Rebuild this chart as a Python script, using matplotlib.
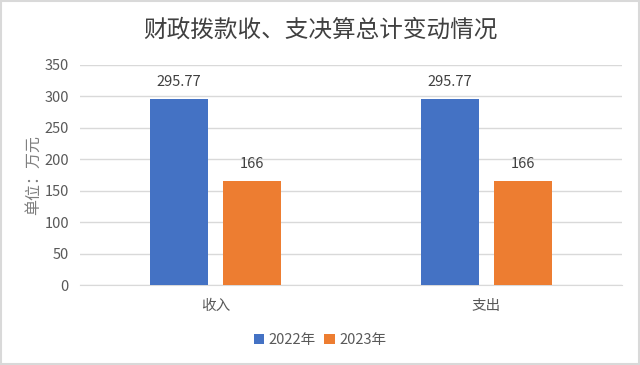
import numpy as np
from matplotlib import pyplot as plt

plt.rcParams['font.family'] = ['Noto Sans CJK SC', 'DejaVu Sans']

categories = ["收入", "支出"]
series_names = ["2022年", "2023年"]
values_2022 = [295.77, 295.77]
values_2023 = [166, 166]
labels_2022 = ["295.77", "295.77"]
labels_2023 = ["166", "166"]
colors = ["#4472C4", "#ED7D31"]

fig = plt.figure(figsize=(6.4, 3.65), dpi=100)
ax = fig.add_axes([0.125, 0.219, 0.847, 0.603])

x = np.arange(len(categories))
w = 0.212
off = 0.135
b1 = ax.bar(x - off, values_2022, w, color=colors[0], label=series_names[0], zorder=3)
b2 = ax.bar(x + off, values_2023, w, color=colors[1], label=series_names[1], zorder=3)

for bars, labs in ((b1, labels_2022), (b2, labels_2023)):
    for r, t in zip(bars, labs):
        ax.text(r.get_x() + r.get_width() / 2, r.get_height() + 16, t,
                ha="center", va="bottom", fontsize=10.5, color="#404040")

ax.set_xlim(-0.5, 1.5)
ax.set_ylim(0, 350)
ax.set_yticks(np.arange(0, 351, 50))
ax.set_xticks(x)
ax.set_xticklabels(categories)
ax.yaxis.grid(True, color="#d9d9d9", linewidth=1, zorder=0)
for s in ["top", "right", "left"]:
    ax.spines[s].set_visible(False)
ax.spines["bottom"].set_color("#d9d9d9")
ax.tick_params(axis="both", length=0, labelsize=10.5, colors="#595959")
ax.tick_params(axis="x", pad=10)
ax.tick_params(axis="y", pad=8)

ax.set_ylabel("单位：万元", fontsize=11.5, color="#7f7f7f", labelpad=2)

fig.suptitle("财政拨款收、支决算总计变动情况", y=0.95, fontsize=17, color="#404040")

fig.legend(loc="center", bbox_to_anchor=(0.5, 0.068), ncol=2, frameon=False,
           fontsize=10.5, labelcolor="#595959", handlelength=0.7, handleheight=0.7,
           handletextpad=0.3, columnspacing=0.6)

fig.patches.append(plt.Rectangle((0.002, 0.003), 0.996, 0.994, transform=fig.transFigure,
                                 fill=False, edgecolor="#d9d9d9", linewidth=1.5))

fig.savefig("out.png", dpi=100)
